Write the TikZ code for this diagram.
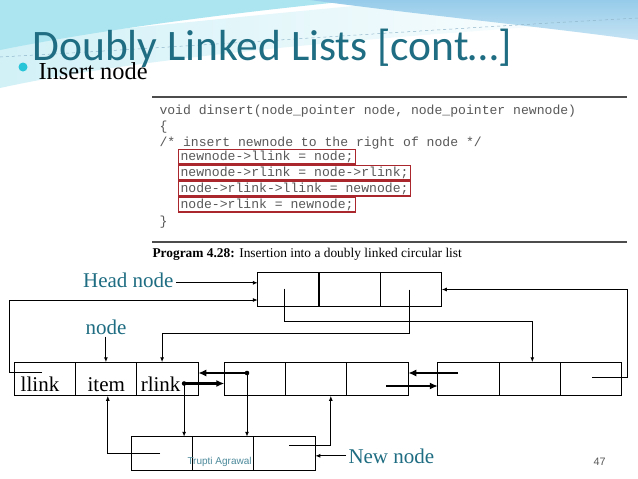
\documentclass[tikz,border=0pt]{standalone}
\usepackage{fontspec}
\setmainfont{Liberation Serif}
\setsansfont{Liberation Sans}
\setmonofont{Liberation Mono}
\newfontfamily\titlefont{Carlito}
\usetikzlibrary{calc,arrows.meta,positioning}
\definecolor{tealtxt}{RGB}{31,109,130}
\definecolor{codegray}{RGB}{88,88,88}
\definecolor{boxred}{RGB}{170,40,45}
\definecolor{skycyan}{RGB}{172,229,240}
\definecolor{skyblue}{RGB}{150,204,234}
\definecolor{dotcyan}{RGB}{40,196,216}

\begin{document}
\begin{tikzpicture}[x=1pt,y=-1pt,line width=1pt,>={Latex[length=5pt,width=4pt]},
  cell/.style={draw,minimum width=61.3pt,minimum height=33.5pt,inner sep=0pt,outer sep=0pt},
  celltxt/.style={font=\fontsize{21}{25}\selectfont,text height=24pt,text depth=0pt},
  lbl/.style={font=\fontsize{21}{25}\selectfont,text=tealtxt,inner sep=2pt},
  code/.style={font=\ttfamily\fontsize{13.1}{16}\selectfont,text=codegray,inner xsep=2pt,
    inner ysep=1.5pt,text height=9pt,text depth=2.5pt,anchor=base west},
  redbox/.style={code,draw=boxred,line width=1.1pt},
  thk/.style={line width=2.6pt,-{Latex[length=8pt,width=7pt]}}]
  \useasboundingbox (0,0) rectangle (638,479);
  % fondo: cielo arriba
  \fill[white] (0,0) rectangle (638,479);
  \shade[left color=skycyan!55,right color=white] (0,40) .. controls (120,30) and (250,15) .. (420,0)
    -- (638,0) -- (638,20) .. controls (400,35) and (150,55) .. (0,88) -- cycle;
  \fill[skycyan] (0,0) -- (360,0) .. controls (240,12) and (110,28) .. (0,50) -- cycle;
  \shade[top color=skyblue,bottom color=skyblue!55] (310,0) .. controls (430,16) and (545,27) .. (638,40)
    -- (638,0) -- cycle;
  \draw[skyblue!70!gray,dashed,line width=0.5pt] (0,57) .. controls (200,46) and (420,30) .. (638,18);
  % titulo
  \node[anchor=base west,inner sep=0pt,text=tealtxt,font=\titlefont\fontsize{43.5}{50}\selectfont]
    (title) at (32,60) {Doubly Linked Lists [cont…]};
  \fill[dotcyan] (23,67) circle (4.5);
  \node[anchor=base west,inner sep=0pt,font=\fontsize{24.4}{28}\selectfont] (sub) at (38,79) {Insert node};
  % programa
  \draw[line width=1.6pt,black!70] (152,97) -- (627,97);
  \node[code] (cl1) at (157,114) {void dinsert(node\_pointer node, node\_pointer newnode)};
  \node[code] (cl2) at (157,130) {\{};
  \node[code] (cl3) at (157,146) {/* insert newnode to the right of node */};
  \node[redbox] (cl4) at (178,160) {newnode->llink = node;};
  \node[redbox] (cl5) at (178,176) {newnode->rlink = node->rlink;};
  \node[redbox] (cl6) at (178,192) {node->rlink->llink = newnode;};
  \node[redbox] (cl7) at (178,208) {node->rlink = newnode;};
  \node[code] (cl8) at (157,225) {\}};
  \draw[line width=1.6pt,black!70] (152,242) -- (627,242);
  \node[anchor=base west,inner sep=0pt,font=\fontsize{13.4}{16}\selectfont] (cap) at (152,257)
    {\textbf{Program 4.28:} Insertion into a doubly linked circular list};
  % nodos de la lista
  \foreach \n/\x/\y in {h/288.5/289.5,b/255/379,c/468.5/379,n/162/453.5}
    \foreach \i in {1,2,3}
      \node[cell] (\n\i) at ({\x+61.3*(\i-1)},\y) {};
  \draw[line width=2pt] (h1.north east) -- (h1.south east);
  \node[cell,celltxt] (a1) at (45,379) {llink\hspace*{10pt}};
  \node[cell,celltxt,right=0pt of a1] (a2) {item};
  \node[cell,celltxt,right=0pt of a2] (a3) {rlink\hspace*{14pt}};
  % rotulos
  \node[lbl,anchor=base east] (headlbl) at (176,287) {Head node};
  \node[lbl,anchor=base west] (nodelbl) at (83,334) {node};
  \node[lbl,anchor=base west] (newlbl) at (346,463) {New node};
  \coordinate (hl) at ($(headlbl.east)+(0,3)$);
  \draw[->] (hl) -- (hl -| h1.west);
  \draw[->] (nodelbl.south) -- (nodelbl.south |- a2.north);
  \draw[->] (newlbl.west) -- (newlbl.west -| n3.east);
  % enlaces de la cabecera
  \draw[->] ($(h1.center)+(-4,-1)$) -- ++(0,33) -| ([xshift=2.5pt]c2.north);
  \draw[->] ($(h3.center)+(-1.5,0)$) -- ++(0,43.5) -| ([xshift=-5.5pt]a3.north);
  \draw[->] ($(a1.center)+(-3,-7)$) -- ++(-33,0) |- ($(h1.west)+(0,10.5)$);
  \draw[->] ($(c3.center)+(1,-2)$) -- ++(35,0) |- (h3.east);
  % enlaces gruesos entre nodos
  \coordinate (adot) at ($(a3.center)+(16.5,4.5)$);
  \coordinate (bdot) at ($(b1.center)+(-8,-6)$);
  \coordinate (cin) at ($(c1.center)+(-10.5,-6)$);
  \coordinate (bout) at ($(b3.center)+(8.5,7)$);
  \draw[thk] (bdot) -- (bdot -| a3.east);
  \draw[thk] (adot) -- (adot -| b1.west);
  \draw[thk] (cin) -- (cin -| b3.east);
  \draw[thk] (bout) -- (bout -| c1.west);
  \fill (adot) circle (2.3);
  \fill (bdot) circle (2.3);
  % nuevo nodo
  \draw[->] (adot) -- (adot |- n1.north);
  \draw[->] (bdot) -- (bdot |- n2.north);
  \draw[->] ($(n1.center)+(-2,0)$) -| ([xshift=1.5pt]a2.south);
  \draw[->] ($(n3.center)+(4.5,-8.5)$) -| ([xshift=14.5pt]b2.south);
  % pie
  \node[anchor=base west,inner sep=0pt,text=tealtxt!80,font=\sffamily\fontsize{10}{12}\selectfont]
    (auth) at (187,464) {Trupti Agrawal};
  \node[anchor=base west,inner sep=0pt,text=black!65,font=\sffamily\fontsize{10.8}{12}\selectfont]
    (pg) at (593,465) {47};
\end{tikzpicture}
\end{document}
